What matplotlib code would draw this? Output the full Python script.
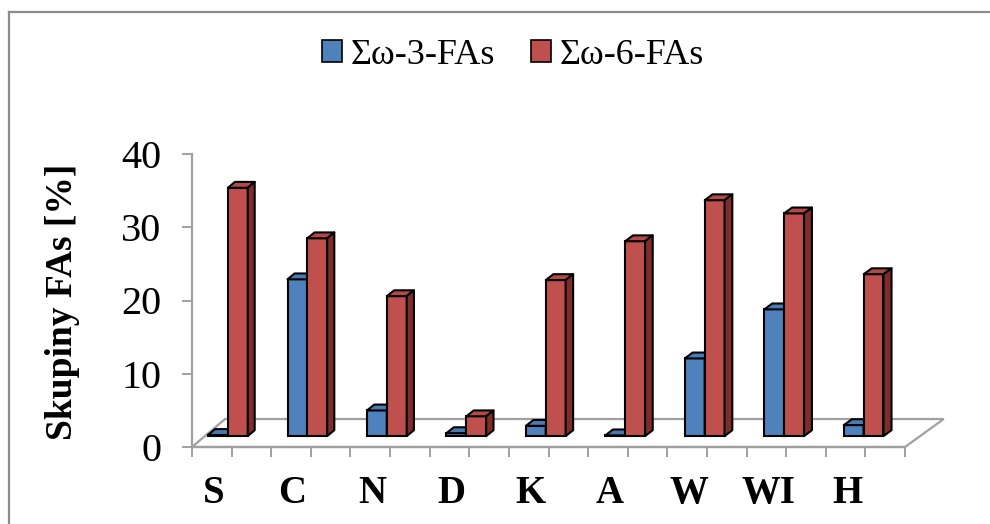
import matplotlib
matplotlib.use("Agg")
import matplotlib.pyplot as plt
from matplotlib.patches import Polygon, Patch
from matplotlib.lines import Line2D

categories = ["S", "C", "N", "D", "K", "A", "W", "WI", "H"]
omega3 = [0.15, 21.4, 3.5, 0.4, 1.4, 0.1, 10.6, 17.3, 1.5]
omega6 = [33.9, 27.0, 19.1, 2.7, 21.3, 26.6, 32.2, 30.4, 22.1]
series_names = ["Σω-3-FAs", "Σω-6-FAs"]
yticks = [0, 10, 20, 30, 40]

front_colors = ["#4F81BD", "#C0504D"]
top_colors = ["#4A7AB4", "#B44A47"]
side_colors = ["#36598A", "#7F2D2B"]

W, H = 990, 524
fig = plt.figure(figsize=(W / 100, H / 100), dpi=100)
# plotting box = front plane of the pseudo-3D chart
ax = fig.add_axes([192 / W, 1 - 447 / H, 713 / W, 293 / H])
ax.set_xlim(0, 9)
ax.set_ylim(0, 40)
ax.patch.set_visible(False)

grey = "#A0A0A0"
for s in ["top", "right"]:
    ax.spines[s].set_visible(False)
for s in ["left", "bottom"]:
    ax.spines[s].set_color(grey)
    ax.spines[s].set_linewidth(1.6)
    ax.spines[s].set_zorder(1)

serif = ["Liberation Serif", "DejaVu Serif"]

ax.set_yticks(yticks)
ax.set_yticklabels([str(t) for t in yticks], fontsize=29, family=serif)
ax.tick_params(axis="y", direction="out", length=7.2, width=1.4, color=grey, pad=15)

n = len(categories)
ax.set_xticks([i * 0.5 for i in range(2 * n + 1)])
ax.set_xticklabels([])
ax.tick_params(axis="x", which="major", direction="out", length=7.2, width=1.4, color=grey)
ax.set_xticks([i + 0.27 for i in range(n)], minor=True)
ax.set_xticklabels(categories, minor=True, fontsize=28, fontweight="bold", family=serif)
ax.tick_params(axis="x", which="minor", length=0, pad=20)

ax.set_ylabel("Skupiny FAs [%]", fontsize=27, fontweight="bold", family=serif)
ax.yaxis.set_label_coords(-0.157, 0.495)

# depth projection (data units per full floor depth)
DY = 3.82


def dx(x):
    return 0.417 + 0.008 * x


# floor
floor = [(0, 0), (9, 0), (9 + dx(9), DY), (dx(0), DY)]
ax.add_patch(Polygon(floor, closed=True, facecolor="white", edgecolor=grey,
                     lw=1.6, zorder=1, clip_on=False))

d_front = 0.39
d_thick = 0.21
bar_w = 0.25
base = d_front * DY
top_dy = d_thick * DY

for i in range(n):
    for k, vals in enumerate([omega3, omega6]):
        x0 = i + 0.04 + k * bar_w
        x = x0 + d_front * dx(x0)
        v = vals[i]
        tdx = d_thick * dx(x0)
        ax.bar(x, v, width=bar_w, bottom=base, align="edge", color=front_colors[k],
               edgecolor="black", linewidth=1.5, zorder=3 + i * 2 + k, clip_on=False)
        y1 = base + v
        top = [(x, y1), (x + bar_w, y1), (x + bar_w + tdx, y1 + top_dy), (x + tdx, y1 + top_dy)]
        side = [(x + bar_w, base), (x + bar_w + tdx, base + top_dy),
                (x + bar_w + tdx, y1 + top_dy), (x + bar_w, y1)]
        ax.add_patch(Polygon(top, closed=True, facecolor=top_colors[k], edgecolor="black",
                             lw=1.5, zorder=3 + i * 2 + k, clip_on=False, joinstyle="round"))
        ax.add_patch(Polygon(side, closed=True, facecolor=side_colors[k], edgecolor="black",
                             lw=1.5, zorder=3 + i * 2 + k, clip_on=False, joinstyle="round"))

handles = [Patch(facecolor=front_colors[k], edgecolor="black", linewidth=1.2) for k in range(2)]
fig.legend(handles, series_names, loc="center", bbox_to_anchor=(513 / W, 1 - 55 / H),
           ncol=2, frameon=False, prop={"family": serif, "size": 26},
           handlelength=0.55, handleheight=0.55, handletextpad=0.25, columnspacing=1.0)

# outer chart border (extends past right/bottom edges)
fig.add_artist(Line2D([9 / W, 9 / W], [0, 1 - 12 / H], color="#8C8C8C", lw=1.6))
fig.add_artist(Line2D([9 / W, 1], [1 - 12 / H, 1 - 12 / H], color="#8C8C8C", lw=1.6))

fig.savefig("out.png", dpi=100)
